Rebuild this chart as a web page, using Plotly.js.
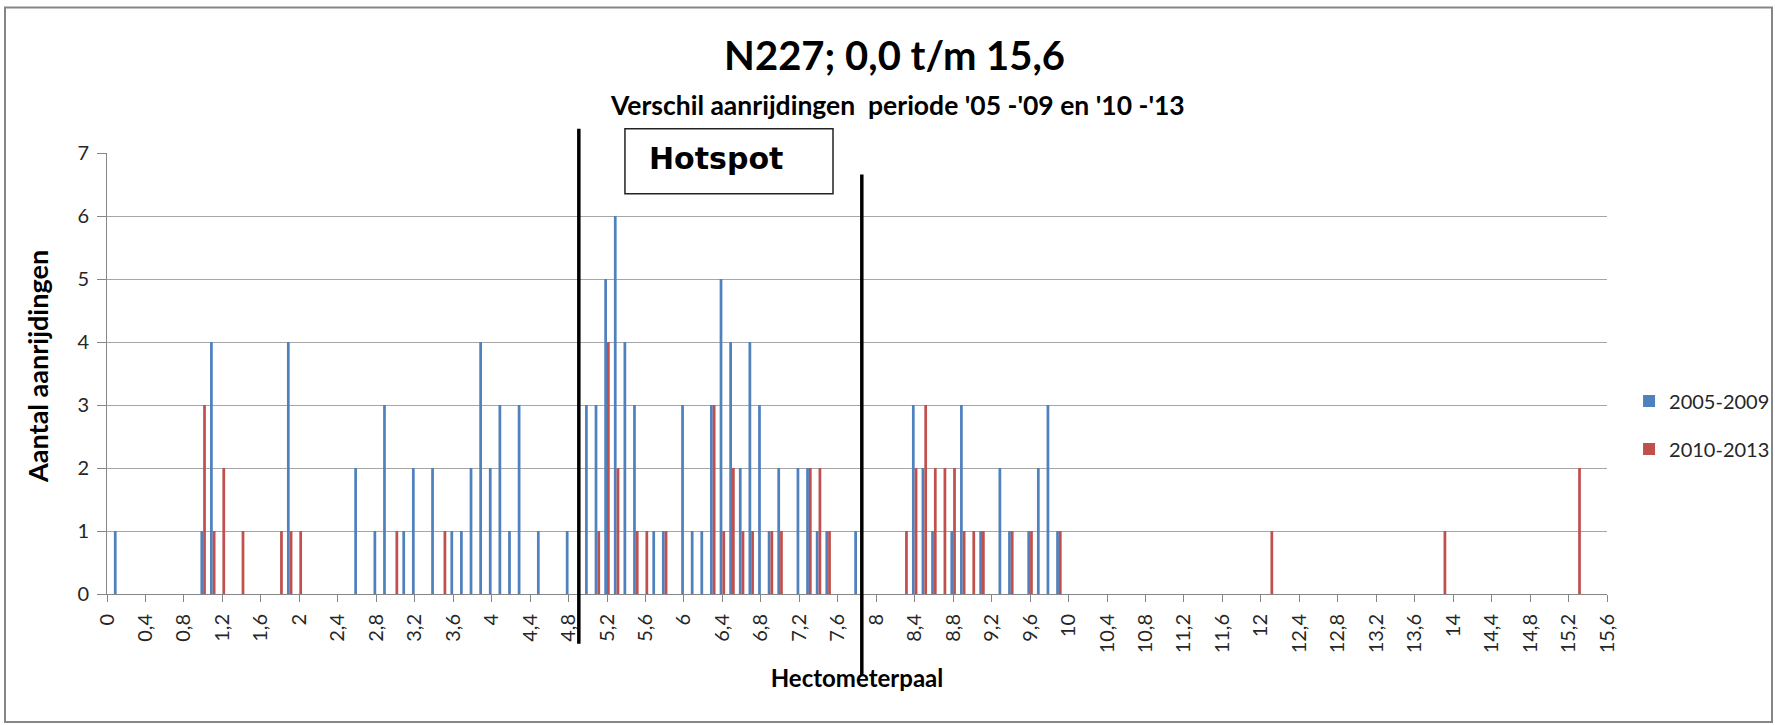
<!DOCTYPE html>
<html>
<head>
<meta charset="utf-8">
<script src="https://cdn.plot.ly/plotly-3.0.1.min.js"></script>
<style>
  html, body { margin: 0; padding: 0; background: #ffffff; }
  #chart { width: 1775px; height: 725px; }
</style>
</head>
<body>
<div id="chart"></div>
<script>
// Hectometer positions (category labels) and accident counts per period
const hm2005 = [0.1, 1.0, 1.1, 1.9, 2.6, 2.8, 2.9, 3.1, 3.2, 3.4, 3.6, 3.7, 3.8, 3.9, 4.0, 4.1, 4.2, 4.3, 4.5, 4.8,
                5.0, 5.1, 5.2, 5.3, 5.4, 5.5, 5.7, 5.8, 6.0, 6.1, 6.2, 6.3, 6.4, 6.5, 6.6, 6.7, 6.8, 6.9, 7.0, 7.2,
                7.3, 7.4, 7.5, 7.8, 8.4, 8.5, 8.6, 8.8, 8.9, 9.1, 9.3, 9.4, 9.6, 9.7, 9.8, 9.9];
const count2005 = [1, 1, 4, 4, 2, 1, 3, 1, 2, 2, 1, 1, 2, 4, 2, 3, 1, 3, 1, 1,
                   3, 3, 5, 6, 4, 3, 1, 1, 3, 1, 1, 3, 5, 4, 2, 4, 3, 1, 2, 2,
                   2, 1, 1, 1, 3, 2, 1, 1, 3, 1, 2, 1, 1, 2, 3, 1];

const hm2010 = [1.0, 1.1, 1.2, 1.4, 1.8, 1.9, 2.0, 3.0, 3.5, 5.1, 5.2, 5.3, 5.5, 5.6, 5.8, 6.3, 6.4, 6.5, 6.6, 6.7,
                6.9, 7.0, 7.3, 7.4, 7.5, 8.3, 8.4, 8.5, 8.6, 8.7, 8.8, 8.9, 9.0, 9.1, 9.4, 9.6, 9.9, 12.1, 13.9, 15.3];
const count2010 = [3, 1, 2, 1, 1, 1, 1, 1, 1, 1, 4, 2, 1, 1, 1, 3, 1, 2, 1, 1,
                   1, 1, 2, 2, 1, 1, 2, 3, 2, 2, 2, 1, 1, 1, 1, 1, 1, 1, 1, 2];

const seriesNames = ['2005-2009', '2010-2013'];
const seriesColors = ['#4F81BD', '#C0504D'];

const axisMin = 0, axisMax = 15.6, labelStep = 0.4;
const yMax = 7;

const titleText = "N227; 0,0 t/m 15,6";
const subtitleText = "Verschil aanrijdingen&nbsp; periode '05 -'09 en '10 -'13";
const xTitle = "Hectometerpaal";
const yTitle = "Aantal aanrijdingen";
const hotspotText = "Hotspot";
const hotspotBounds = [4.907, 7.85];

const FONT = "Lato, 'Open Sans', 'Noto Sans', sans-serif";

const traces = [
  { type: 'bar', name: seriesNames[0], x: hm2005, y: count2005,
    marker: { color: seriesColors[0] }, legendgroup: 'a' },
  { type: 'bar', name: seriesNames[1], x: hm2010, y: count2010,
    marker: { color: seriesColors[1] }, legendgroup: 'b' }
];

const layout = {
  width: 1775, height: 725,
  margin: { l: 107, r: 168, t: 153, b: 131, pad: 0, autoexpand: false },
  paper_bgcolor: '#ffffff', plot_bgcolor: '#ffffff',
  separators: ',.',
  font: { family: FONT, color: '#262626', size: 20 },
  barmode: 'group', bargap: 0.43, bargroupgap: 0,
  showlegend: true,
  legend: { x: 1.0147, xanchor: 'left', y: 0.3835, yanchor: 'middle',
            font: { family: FONT, size: 20, color: '#262626' },
            tracegroupgap: 19, bgcolor: 'rgba(0,0,0,0)', itemwidth: 30 },
  title: { text: '<b>' + titleText + '</b>', x: 0.504, xref: 'container', xanchor: 'center',
           y: 0.923, yref: 'container', yanchor: 'middle',
           font: { family: FONT, size: 40, color: '#000000' } },
  xaxis: {
    range: [axisMin, axisMax], tick0: 0, dtick: labelStep, tickmode: 'linear',
    tickangle: -90, ticks: 'outside', ticklen: 7, tickcolor: '#868686', tickwidth: 1,
    showline: true, linecolor: '#868686', linewidth: 1,
    showgrid: false, zeroline: false, ticklabelstandoff: 4,
    tickfont: { family: FONT, size: 20, color: '#262626' },
    title: { text: '<b>' + xTitle + '</b>', standoff: 17,
             font: { family: FONT, size: 24, color: '#000000' } },
    automargin: false
  },
  yaxis: {
    range: [0, yMax], dtick: 1, tick0: 0, tickmode: 'linear',
    ticks: 'outside', ticklen: 9, tickcolor: '#868686', tickwidth: 1,
    showline: true, linecolor: '#868686', linewidth: 1,
    showgrid: true, gridcolor: '#A6A6A6', gridwidth: 1, zeroline: false,
    ticklabelstandoff: 4,
    tickfont: { family: FONT, size: 20, color: '#262626' },
    automargin: false
  },
  shapes: [
    // outer chart border
    { type: 'rect', xref: 'paper', yref: 'paper', x0: -0.068, x1: 1.110, y0: -0.2905, y1: 1.3297,
      line: { color: '#868686', width: 2 }, fillcolor: 'rgba(0,0,0,0)', layer: 'below' },
    // hotspot boundary lines
    { type: 'line', xref: 'x', yref: 'paper', x0: hotspotBounds[0], x1: hotspotBounds[0], y0: -0.113, y1: 1.055,
      line: { color: '#000000', width: 3.5 }, layer: 'above' },
    { type: 'line', xref: 'x', yref: 'paper', x0: hotspotBounds[1], x1: hotspotBounds[1], y0: -0.184, y1: 0.951,
      line: { color: '#000000', width: 3.5 }, layer: 'above' },
    // hotspot label box
    { type: 'rect', xref: 'paper', yref: 'paper', x0: 0.3453, x1: 0.484, y0: 0.9076, y1: 1.055,
      line: { color: '#222222', width: 1.5 }, fillcolor: '#ffffff', layer: 'above' }
  ],
  annotations: [
    { text: '<b>' + subtitleText + '</b>', xref: 'paper', yref: 'paper', x: 0.5267, y: 1.1096,
      xanchor: 'center', yanchor: 'middle', showarrow: false,
      font: { family: FONT, size: 26.5, color: '#000000' } },
    { text: '<b>' + yTitle + '</b>', xref: 'paper', yref: 'paper', x: -0.046, y: 0.515,
      xanchor: 'center', yanchor: 'middle', textangle: -90, showarrow: false,
      font: { family: FONT, size: 27, color: '#000000' } },
    { text: '<b>' + hotspotText + '</b>', xref: 'paper', yref: 'paper', x: 0.36, y: 0.987,
      xanchor: 'left', yanchor: 'middle', showarrow: false,
      font: { family: "'DejaVu Sans', Verdana, sans-serif", size: 30, color: '#000000' } }
  ]
};

Plotly.newPlot('chart', traces, layout, { staticPlot: true, displayModeBar: false });
</script>
</body>
</html>
